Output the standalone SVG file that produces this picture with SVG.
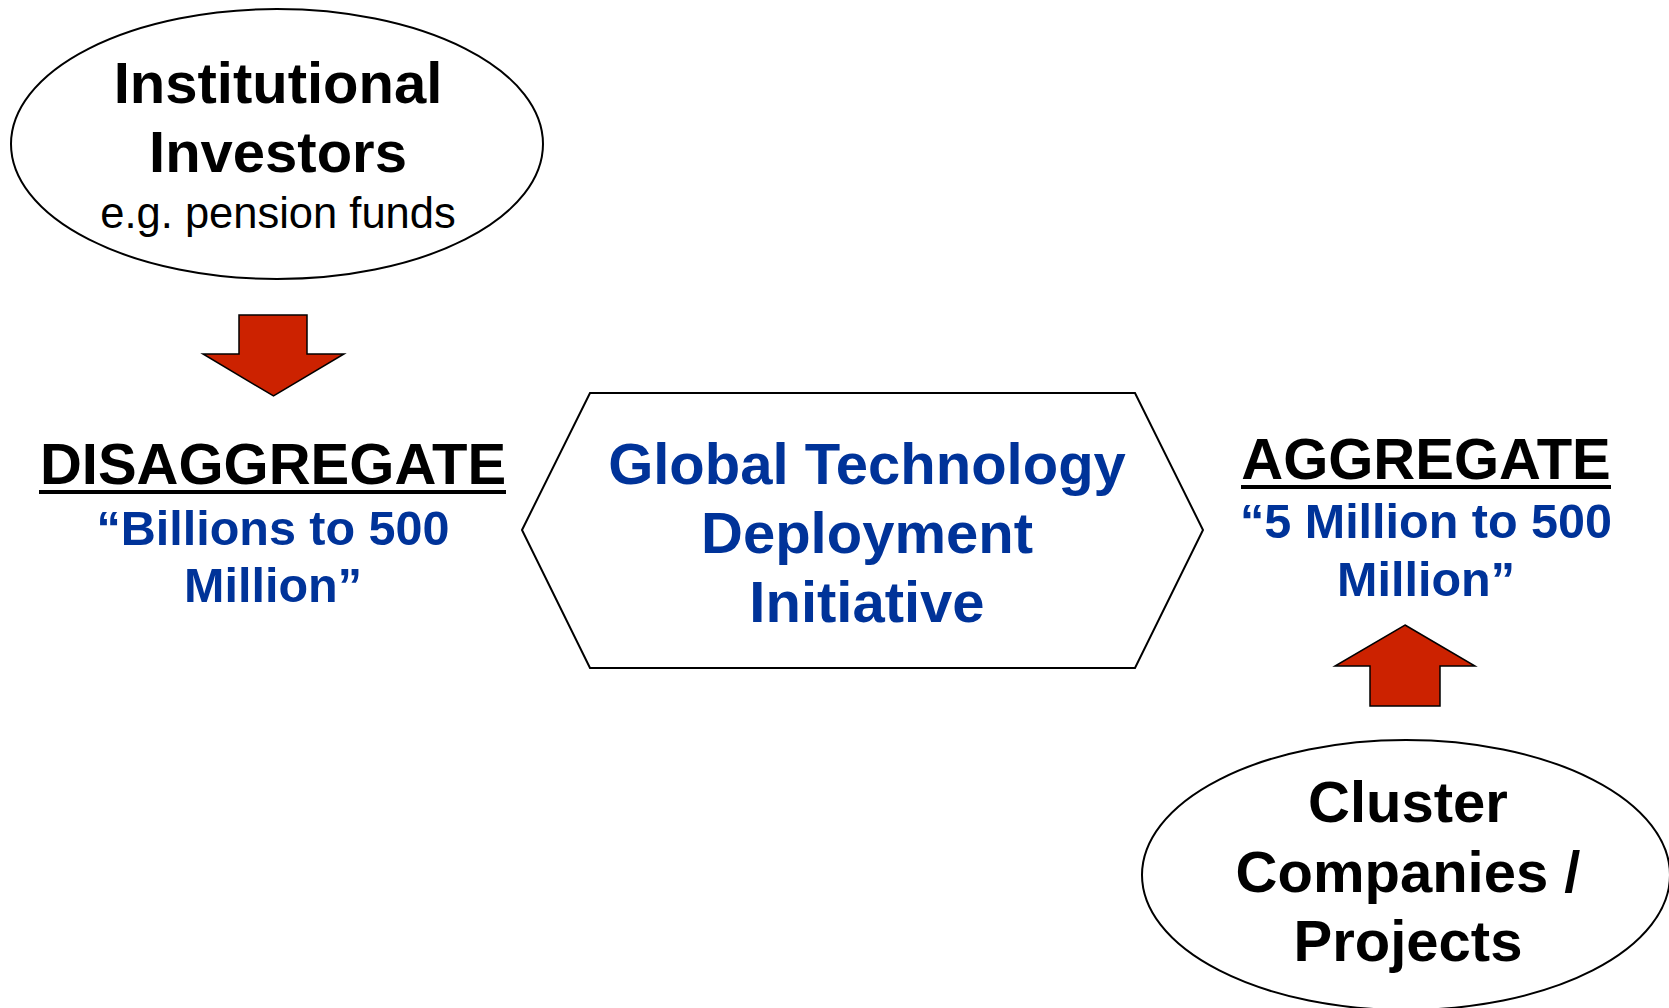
<svg xmlns="http://www.w3.org/2000/svg" width="1669" height="1008" viewBox="0 0 1669 1008">
<style>
.shape{fill:#ffffff;stroke:#000000;stroke-width:2}
.arrow{fill:#cc2200;stroke:#000000;stroke-width:1.5;stroke-linejoin:miter}
.big{font-family:"Liberation Sans",Arial,sans-serif;font-weight:bold;font-size:58px;fill:#000000;text-anchor:middle}
.blue{fill:#003399}
.sub{font-family:"Liberation Sans",Arial,sans-serif;font-weight:bold;font-size:48.5px;fill:#003399;text-anchor:middle}
.reg{font-family:"Liberation Sans",Arial,sans-serif;font-size:43.5px;fill:#000000;text-anchor:middle}
</style>
<rect width="1669" height="1008" fill="#ffffff"/>
<g id="investors">
<ellipse class="shape" cx="277" cy="144" rx="266" ry="135"/>
<text class="big" x="278" y="103">Institutional</text>
<text class="big" x="278" y="172">Investors</text>
<text class="reg" x="278" y="228">e.g. pension funds</text>
</g>
<g id="disaggregate">
<text class="big" x="273" y="484">DISAGGREGATE</text>
<rect x="39" y="490" width="467" height="4" fill="#000000"/>
<text class="sub" x="273" y="545">“Billions to 500</text>
<text class="sub" x="273" y="602">Million”</text>
</g>
<g id="initiative">
<polygon class="shape" points="522,530 590,393 1135,393 1203,530 1135,668 590,668"/>
<text class="big blue" x="867" y="484">Global Technology</text>
<text class="big blue" x="867" y="553">Deployment</text>
<text class="big blue" x="867" y="622">Initiative</text>
</g>
<g id="aggregate">
<text class="big" x="1426" y="479">AGGREGATE</text>
<rect x="1241" y="485" width="370" height="4" fill="#000000"/>
<text class="sub" x="1426" y="538">“5 Million to 500</text>
<text class="sub" x="1426" y="596">Million”</text>
</g>
<g id="cluster">
<ellipse class="shape" cx="1406" cy="875" rx="264" ry="135"/>
<text class="big" x="1408" y="822">Cluster</text>
<text class="big" x="1408" y="892">Companies /</text>
<text class="big" x="1408" y="961">Projects</text>
</g>
<g id="connectors">
<polygon class="arrow" points="239,315 307,315 307,354 344,354 273.5,396 203,354 239,354"/>
<polygon class="arrow" points="1405,625 1475,666 1440,666 1440,706 1370,706 1370,666 1335,666"/>
</g>
</svg>
